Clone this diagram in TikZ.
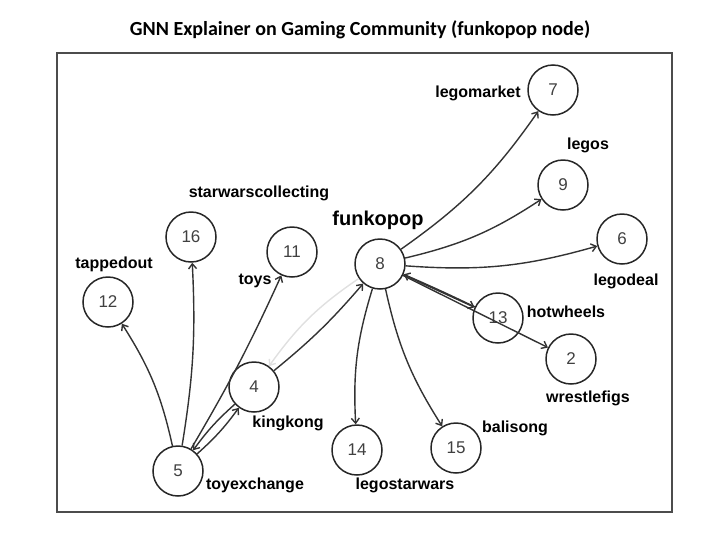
\documentclass[tikz,border=0pt]{standalone}
\usepackage{fontspec}
\setmainfont{Liberation Sans}
\newfontfamily\titlefont{Carlito}
\usetikzlibrary{arrows.meta}
\begin{document}
\begin{tikzpicture}[x=1pt,y=-1pt,
  gnode/.style={circle,draw=black!85,line width=1.5pt,minimum size=50pt,inner sep=0pt,
    font=\fontsize{17}{17}\selectfont,text=black!75},
  lab/.style={font=\bfseries\fontsize{16}{16}\selectfont,inner sep=0pt},
  edge/.style={draw=black!80,line width=1.4pt,-{Straight Barb[length=5pt,width=8pt]},bend right=10},
  faint/.style={edge,draw=black!12},
]
\useasboundingbox (0,0) rectangle (709,544);
\draw[black!70,line width=1.8pt] (57,53) rectangle (672,512);
\node[font=\titlefont\bfseries\fontsize{20}{20}\selectfont] (title) at (360,30) {GNN Explainer on Gaming Community (funkopop node)};

% nodes
\node[gnode] (n7)  at (553,90)  {7};
\node[gnode] (n9)  at (563,185) {9};
\node[gnode] (n6)  at (622,239) {6};
\node[gnode] (n8)  at (380,264) {8};
\node[gnode] (n13) at (498,318) {13};
\node[gnode] (n2)  at (571,359) {2};
\node[gnode] (n16) at (191,237) {16};
\node[gnode] (n11) at (292,252) {11};
\node[gnode] (n12) at (108,302) {12};
\node[gnode] (n4)  at (254,387) {4};
\node[gnode] (n5)  at (178,471) {5};
\node[gnode] (n14) at (357,450) {14};
\node[gnode] (n15) at (456,448) {15};

% labels
\node[lab] (l7)  at (478,93)  {legomarket};
\node[lab] (l9)  at (588,145) {legos};
\node[lab] (l16) at (259,193) {starwarscollecting};
\node[lab,font=\bfseries\fontsize{20}{20}\selectfont] (l8) at (378,220) {funkopop};
\node[lab] (l12) at (114,264) {tappedout};
\node[lab] (l11) at (255,281) {toys};
\node[lab] (l6)  at (626,281) {legodeal};
\node[lab] (l13) at (566,312) {hotwheels};
\node[lab] (l2)  at (588,398) {wrestlefigs};
\node[lab] (l4)  at (288,423) {kingkong};
\node[lab] (l15) at (515,428) {balisong};
\node[lab] (l5)  at (255,485) {toyexchange};
\node[lab] (l14) at (405,485) {legostarwars};

% edges
\draw[faint] (n8) to (n4);
\draw[edge] (n8) to (n7);
\draw[edge] (n8) to (n9);
\draw[edge] (n8) to (n6);
\draw[edge,bend right=0] (n8) to (n13);
\draw[edge,bend right=1] (n13) to (n8);
\draw[edge,bend right=0] (n8) to (n2);
\draw[edge] (n8) to (n14);
\draw[edge] (n8) to (n15);
\draw[edge,bend right=5] (n4) to (n8);
\draw[edge,bend right=6] (n5) to (n4);
\draw[edge,bend right=6] (n4) to (n5);
\draw[edge,bend right=3] (n5) to (n11);
\draw[edge,bend right=6] (n5) to (n16);
\draw[edge] (n5) to (n12);
\end{tikzpicture}
\end{document}
